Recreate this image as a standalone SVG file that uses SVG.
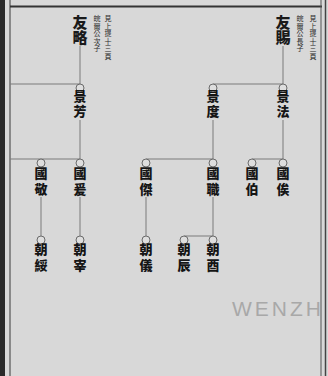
<svg xmlns="http://www.w3.org/2000/svg" width="328" height="376" viewBox="0 0 328 376">
<style>
.ln{stroke:#7a7a7a;stroke-width:1;fill:none}
.c{stroke:#6a6a6a;stroke-width:1;fill:#dedede}
text.v{writing-mode:vertical-rl;font-family:"Noto Sans CJK TC","Noto Sans CJK SC",sans-serif}
.n1{font-size:15px;font-weight:900;fill:#1a1a1a}
.n{font-size:13px;font-weight:900;fill:#151515;letter-spacing:2px}
.g3{letter-spacing:3px}
.s{font-size:7px;fill:#2a2a2a;letter-spacing:0.5px}
.wm{font-family:"Liberation Sans",Arial,sans-serif;font-size:21px;fill:#a8a8a8;letter-spacing:3px}
</style>
<rect width="328" height="376" fill="#d8d8d8"/>
<g id="frame">
<rect x="0" y="0" width="5" height="376" fill="#2a2a2a"/>
<line x1="10" y1="0" x2="10" y2="376" stroke="#555" stroke-width="1.2"/>
<line x1="10" y1="6.5" x2="322" y2="6.5" stroke="#333" stroke-width="1.8"/>
<line x1="321" y1="0" x2="321" y2="376" stroke="#555" stroke-width="1"/>
<line x1="325.5" y1="0" x2="325.5" y2="376" stroke="#444" stroke-width="1.5"/>
</g>
<g id="connectors">
<path class="ln" d="M80 46V84M10 84H80M283 46V84M213 84H283"/>
<path class="ln" d="M80 120V159M10 159H80M213 120V159M146 159H213M283 120V159M252 159H283"/>
<path class="ln" d="M41 197V236M80 197V236M146 197V236M213 197V236M184 236H213"/>
</g>
<g id="youlue">
<text class="v n1" x="80" y="14.5">友略</text>
<text class="v s" x="108" y="15">見上提十三頁</text>
<text class="v s" x="97" y="15">皖爾公次子</text>
</g>
<g id="youci">
<text class="v n1" x="283" y="14.5">友賜</text>
<text class="v s" x="313" y="15">見上提十三頁</text>
<text class="v s" x="300" y="15">皖爾公長子</text>
</g>
<g id="jingfang"><circle class="c" cx="80" cy="88" r="4"/><text class="v n" x="80" y="90">景芳</text></g>
<g id="jingdu"><circle class="c" cx="213" cy="88" r="4"/><text class="v n" x="213" y="90">景度</text></g>
<g id="jingfa"><circle class="c" cx="283" cy="88" r="4"/><text class="v n" x="283" y="90">景法</text></g>
<g id="guojing"><circle class="c" cx="41" cy="163" r="4"/><text class="v n g3" x="41" y="166.5">國敬</text></g>
<g id="guoyuan"><circle class="c" cx="80" cy="163" r="4"/><text class="v n g3" x="80" y="166.5">國爰</text></g>
<g id="guojie"><circle class="c" cx="146" cy="163" r="4"/><text class="v n g3" x="146" y="166.5">國傑</text></g>
<g id="guozhi"><circle class="c" cx="213" cy="163" r="4"/><text class="v n g3" x="213" y="166.5">國職</text></g>
<g id="guobo"><circle class="c" cx="252" cy="163" r="4"/><text class="v n g3" x="252" y="166.5">國伯</text></g>
<g id="guosi"><circle class="c" cx="283" cy="163" r="4"/><text class="v n g3" x="283" y="166.5">國俟</text></g>
<g id="chaosui"><circle class="c" cx="41" cy="240" r="4"/><text class="v n g3" x="41" y="242.5">朝綏</text></g>
<g id="chaozai"><circle class="c" cx="80" cy="240" r="4"/><text class="v n g3" x="80" y="242.5">朝宰</text></g>
<g id="chaoyi"><circle class="c" cx="146" cy="240" r="4"/><text class="v n g3" x="146" y="242.5">朝儀</text></g>
<g id="chaochen"><circle class="c" cx="184" cy="240" r="4"/><text class="v n g3" x="184" y="242.5">朝辰</text></g>
<g id="chaoyou"><circle class="c" cx="213" cy="240" r="4"/><text class="v n g3" x="213" y="242.5">朝酉</text></g>
<text class="wm" x="232" y="316">WENZH</text>
</svg>
